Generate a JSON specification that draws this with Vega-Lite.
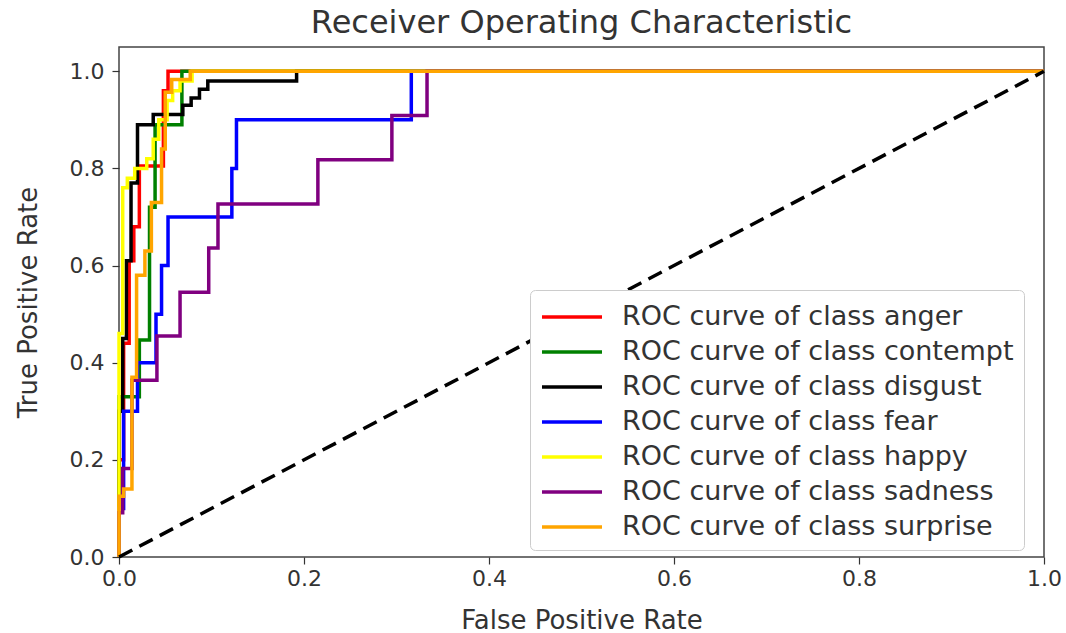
{
  "$schema": "https://vega.github.io/schema/vega-lite/v6.json",
  "width": 925,
  "height": 510,
  "autosize": {"type": "none"},
  "padding": {"left": 119, "top": 47, "right": 22, "bottom": 76},
  "background": "white",
  "title": {"text": "Receiver Operating Characteristic", "font": "DejaVu Sans", "fontSize": 32, "fontWeight": "normal", "color": "#333", "anchor": "middle", "offset": 7},
  "config": {
    "view": {"stroke": "#444", "strokeWidth": 1.5},
    "axis": {"domain": false, "grid": false, "tickColor": "#333", "tickSize": 7, "tickWidth": 1.2, "labelFont": "DejaVu Sans", "labelFontSize": 22, "labelColor": "#333", "titleFont": "DejaVu Sans", "titleFontSize": 26, "titleFontWeight": "normal", "titleColor": "#333"}
  },
  "layer": [
    {
      "data": {"values": [
        {"cls": "ROC curve of class anger", "ord": 0, "fpr": 0, "tpr": 0},
        {"cls": "ROC curve of class anger", "ord": 1, "fpr": 0.005, "tpr": 0.2},
        {"cls": "ROC curve of class anger", "ord": 2, "fpr": 0.011, "tpr": 0.44},
        {"cls": "ROC curve of class anger", "ord": 3, "fpr": 0.016, "tpr": 0.61},
        {"cls": "ROC curve of class anger", "ord": 4, "fpr": 0.022, "tpr": 0.68},
        {"cls": "ROC curve of class anger", "ord": 5, "fpr": 0.048, "tpr": 0.805},
        {"cls": "ROC curve of class anger", "ord": 6, "fpr": 0.053, "tpr": 0.96},
        {"cls": "ROC curve of class anger", "ord": 7, "fpr": 1, "tpr": 1},

        {"cls": "ROC curve of class contempt", "ord": 0, "fpr": 0, "tpr": 0},
        {"cls": "ROC curve of class contempt", "ord": 1, "fpr": 0.022, "tpr": 0.33},
        {"cls": "ROC curve of class contempt", "ord": 2, "fpr": 0.033, "tpr": 0.447},
        {"cls": "ROC curve of class contempt", "ord": 3, "fpr": 0.039, "tpr": 0.72},
        {"cls": "ROC curve of class contempt", "ord": 4, "fpr": 0.068, "tpr": 0.89},
        {"cls": "ROC curve of class contempt", "ord": 5, "fpr": 1, "tpr": 1},

        {"cls": "ROC curve of class disgust", "ord": 0, "fpr": 0, "tpr": 0},
        {"cls": "ROC curve of class disgust", "ord": 1, "fpr": 0.004, "tpr": 0.3},
        {"cls": "ROC curve of class disgust", "ord": 2, "fpr": 0.008, "tpr": 0.45},
        {"cls": "ROC curve of class disgust", "ord": 3, "fpr": 0.013, "tpr": 0.61},
        {"cls": "ROC curve of class disgust", "ord": 4, "fpr": 0.02, "tpr": 0.77},
        {"cls": "ROC curve of class disgust", "ord": 5, "fpr": 0.037, "tpr": 0.89},
        {"cls": "ROC curve of class disgust", "ord": 6, "fpr": 0.069, "tpr": 0.911},
        {"cls": "ROC curve of class disgust", "ord": 7, "fpr": 0.078, "tpr": 0.93},
        {"cls": "ROC curve of class disgust", "ord": 8, "fpr": 0.087, "tpr": 0.945},
        {"cls": "ROC curve of class disgust", "ord": 9, "fpr": 0.096, "tpr": 0.963},
        {"cls": "ROC curve of class disgust", "ord": 10, "fpr": 0.192, "tpr": 0.98},
        {"cls": "ROC curve of class disgust", "ord": 11, "fpr": 1, "tpr": 1},

        {"cls": "ROC curve of class fear", "ord": 0, "fpr": 0, "tpr": 0},
        {"cls": "ROC curve of class fear", "ord": 1, "fpr": 0.005, "tpr": 0.1},
        {"cls": "ROC curve of class fear", "ord": 2, "fpr": 0.02, "tpr": 0.3},
        {"cls": "ROC curve of class fear", "ord": 3, "fpr": 0.04, "tpr": 0.4},
        {"cls": "ROC curve of class fear", "ord": 4, "fpr": 0.046, "tpr": 0.5},
        {"cls": "ROC curve of class fear", "ord": 5, "fpr": 0.053, "tpr": 0.6},
        {"cls": "ROC curve of class fear", "ord": 6, "fpr": 0.122, "tpr": 0.7},
        {"cls": "ROC curve of class fear", "ord": 7, "fpr": 0.127, "tpr": 0.8},
        {"cls": "ROC curve of class fear", "ord": 8, "fpr": 0.316, "tpr": 0.9},
        {"cls": "ROC curve of class fear", "ord": 9, "fpr": 1, "tpr": 1},

        {"cls": "ROC curve of class happy", "ord": 0, "fpr": 0, "tpr": 0},
        {"cls": "ROC curve of class happy", "ord": 1, "fpr": 0.004, "tpr": 0.46},
        {"cls": "ROC curve of class happy", "ord": 2, "fpr": 0.009, "tpr": 0.76},
        {"cls": "ROC curve of class happy", "ord": 3, "fpr": 0.017, "tpr": 0.78},
        {"cls": "ROC curve of class happy", "ord": 4, "fpr": 0.03, "tpr": 0.8},
        {"cls": "ROC curve of class happy", "ord": 5, "fpr": 0.037, "tpr": 0.82},
        {"cls": "ROC curve of class happy", "ord": 6, "fpr": 0.043, "tpr": 0.86},
        {"cls": "ROC curve of class happy", "ord": 7, "fpr": 0.052, "tpr": 0.9},
        {"cls": "ROC curve of class happy", "ord": 8, "fpr": 0.058, "tpr": 0.94},
        {"cls": "ROC curve of class happy", "ord": 9, "fpr": 0.066, "tpr": 0.96},
        {"cls": "ROC curve of class happy", "ord": 10, "fpr": 0.079, "tpr": 0.98},
        {"cls": "ROC curve of class happy", "ord": 11, "fpr": 1, "tpr": 1},

        {"cls": "ROC curve of class sadness", "ord": 0, "fpr": 0, "tpr": 0},
        {"cls": "ROC curve of class sadness", "ord": 1, "fpr": 0.004, "tpr": 0.091},
        {"cls": "ROC curve of class sadness", "ord": 2, "fpr": 0.014, "tpr": 0.182},
        {"cls": "ROC curve of class sadness", "ord": 3, "fpr": 0.041, "tpr": 0.364},
        {"cls": "ROC curve of class sadness", "ord": 4, "fpr": 0.066, "tpr": 0.455},
        {"cls": "ROC curve of class sadness", "ord": 5, "fpr": 0.097, "tpr": 0.545},
        {"cls": "ROC curve of class sadness", "ord": 6, "fpr": 0.107, "tpr": 0.636},
        {"cls": "ROC curve of class sadness", "ord": 7, "fpr": 0.215, "tpr": 0.727},
        {"cls": "ROC curve of class sadness", "ord": 8, "fpr": 0.295, "tpr": 0.818},
        {"cls": "ROC curve of class sadness", "ord": 9, "fpr": 0.333, "tpr": 0.909},
        {"cls": "ROC curve of class sadness", "ord": 10, "fpr": 1, "tpr": 1},

        {"cls": "ROC curve of class surprise", "ord": 0, "fpr": 0, "tpr": 0},
        {"cls": "ROC curve of class surprise", "ord": 1, "fpr": 0.005, "tpr": 0.125},
        {"cls": "ROC curve of class surprise", "ord": 2, "fpr": 0.014, "tpr": 0.14},
        {"cls": "ROC curve of class surprise", "ord": 3, "fpr": 0.019, "tpr": 0.37},
        {"cls": "ROC curve of class surprise", "ord": 4, "fpr": 0.028, "tpr": 0.58},
        {"cls": "ROC curve of class surprise", "ord": 5, "fpr": 0.035, "tpr": 0.63},
        {"cls": "ROC curve of class surprise", "ord": 6, "fpr": 0.046, "tpr": 0.73},
        {"cls": "ROC curve of class surprise", "ord": 7, "fpr": 0.05, "tpr": 0.84},
        {"cls": "ROC curve of class surprise", "ord": 8, "fpr": 0.057, "tpr": 0.957},
        {"cls": "ROC curve of class surprise", "ord": 9, "fpr": 0.077, "tpr": 0.983},
        {"cls": "ROC curve of class surprise", "ord": 10, "fpr": 1, "tpr": 1}
      ]},
      "mark": {"type": "line", "interpolate": "step-before", "strokeWidth": 3.5},
      "encoding": {
        "x": {"field": "fpr", "type": "quantitative", "scale": {"domain": [0, 1], "nice": false},
              "axis": {"title": "False Positive Rate", "values": [0, 0.2, 0.4, 0.6, 0.8, 1.0], "format": ".1f", "labelPadding": 4, "titlePadding": 18, "labelFlush": false}},
        "y": {"field": "tpr", "type": "quantitative", "scale": {"domain": [0, 1.05], "nice": false},
              "axis": {"title": "True Positive Rate", "values": [0, 0.2, 0.4, 0.6, 0.8, 1.0], "format": ".1f", "labelPadding": 8, "titlePadding": 28}},
        "color": {"field": "cls", "type": "nominal",
          "scale": {"domain": ["ROC curve of class anger", "ROC curve of class contempt", "ROC curve of class disgust", "ROC curve of class fear", "ROC curve of class happy", "ROC curve of class sadness", "ROC curve of class surprise"],
                    "range": ["#ff0000", "#008000", "#000000", "#0000ff", "#ffff00", "#800080", "#ffa500"]},
          "legend": {"title": null, "orient": "none", "legendX": 411, "legendY": 243,
                     "symbolType": "M-2,0H2", "symbolSize": 900, "symbolStrokeWidth": 3.5, "symbolOffset": 15,
                     "labelFont": "DejaVu Sans", "labelFontSize": 27, "labelColor": "#333", "labelOffset": 33, "labelLimit": 600,
                     "rowPadding": 5, "padding": 10, "fillColor": "white", "strokeColor": "#cccccc", "cornerRadius": 5}},
        "order": {"field": "ord", "type": "quantitative"}
      }
    },
    {
      "data": {"values": [{"fpr": 0, "tpr": 0}, {"fpr": 1, "tpr": 1}]},
      "mark": {"type": "line", "color": "black", "strokeWidth": 3.5, "strokeDash": [15, 8]},
      "encoding": {
        "x": {"field": "fpr", "type": "quantitative"},
        "y": {"field": "tpr", "type": "quantitative"}
      }
    }
  ]
}
